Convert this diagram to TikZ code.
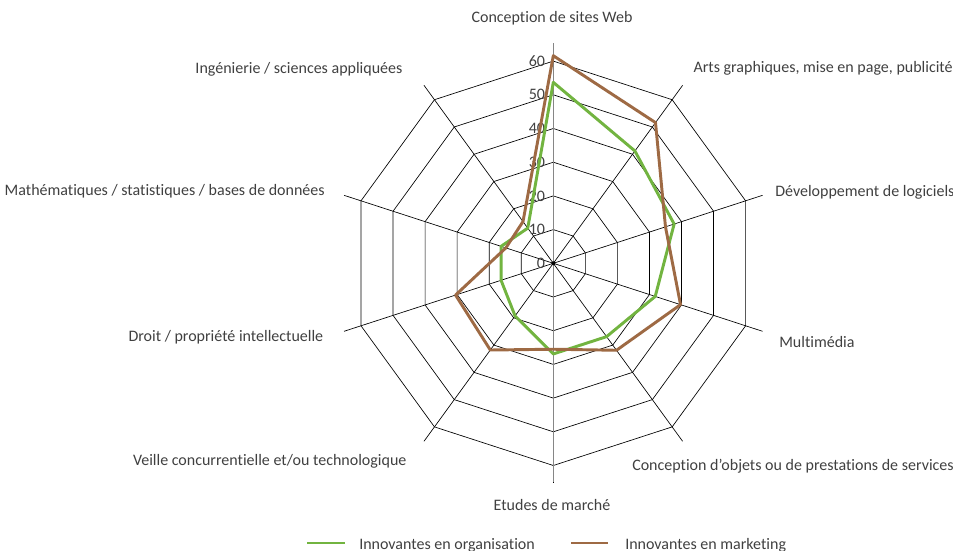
\documentclass[tikz,border=0pt]{standalone}
\usepackage{fontspec}
\setmainfont{Carlito}[Ligatures=NoCommon]
\definecolor{txt}{RGB}{64,64,64}
\definecolor{orgGreen}{RGB}{114,180,64}
\definecolor{mktBrown}{RGB}{158,106,68}
\definecolor{axisGray}{RGB}{134,134,134}
\begin{document}
\begin{tikzpicture}[x=0.75pt,y=-0.75pt,
  lbl/.style={font=\fontsize{12}{14}\selectfont, text=txt, inner sep=0pt},
  gridline/.style={draw=black, line width=0.5pt},
  spokeline/.style={draw=black, line width=0.5pt},
  valaxis/.style={draw=axisGray, line width=1.1pt},
  series/.style={line width=2.2pt, line join=round}]
\useasboundingbox (0,0) rectangle (953,550);
\coordinate (C) at (553.3,263.3);
\begin{scope}[shift={(553.3,263.3)}]
  % rings
  \foreach \v in {10,20,...,60}{
    \draw[gridline] (-90:\v*3.37) \foreach \k in {1,...,9}{ -- (-90+36*\k:\v*3.37)} -- cycle;
  }
  % spokes
  \foreach \k in {0,...,9}{
    \draw[spokeline] (0,0) -- (-90+36*\k:220);
  }
  \draw[valaxis] (-90:220) -- (90:219);
  \fill[black] (0,0) circle (2);
  % tick labels
  \foreach \v in {0,10,...,60}{
    \node[lbl, anchor=east] (t\v) at (-8,-\v*3.37) {\v};
  }
  % series
  \draw[series, orgGreen]
    (-90:53.7*3.37) -- (-54:41.2*3.37) -- (-18:37.7*3.37) -- (18:31.8*3.37)
    -- (54:26.9*3.37) -- (90:26.9*3.37) -- (126:19.3*3.37) -- (162:16.3*3.37)
    -- (198:16.3*3.37) -- (234:12.9*3.37) -- cycle;
  \draw[series, mktBrown]
    (-90:61.6*3.37) -- (-54:51.6*3.37) -- (-18:35*3.37) -- (18:39.7*3.37)
    -- (54:31.9*3.37) -- (90:25.5*3.37) -- (126:31.8*3.37) -- (162:30.5*3.37)
    -- (198:14.8*3.37) -- (234:15.3*3.37) -- cycle;
\end{scope}
% category labels
\node[lbl, anchor=base] (web) at (552,22.5) {Conception de sites Web};
\node[lbl, anchor=base west] (arts) at (693.3,72.5) {Arts graphiques, mise en page, publicité};
\node[lbl, anchor=base west] (dev) at (775,196) {Développement de logiciels};
\node[lbl, anchor=base west] (multi) at (779,347) {Multimédia};
\node[lbl, anchor=base west] (objets) at (632,470) {Conception d'objets ou de prestations de services};
\node[lbl, anchor=base] (etudes) at (552,510.5) {Etudes de marché};
\node[lbl, anchor=base east] (veille) at (406.7,465) {Veille concurrentielle et/ou technologique};
\node[lbl, anchor=base east] (droit) at (323.5,341.5) {Droit / propriété intellectuelle};
\node[lbl, anchor=base east] (math) at (325,195) {Mathématiques / statistiques / bases de données};
\node[lbl, anchor=base east] (ing) at (402.7,73.5) {Ingénierie / sciences appliquées};
% legend
\coordinate (g1) at (307,543);
\coordinate (g2) at (345,543);
\coordinate (b1) at (571,543);
\coordinate (b2) at (608,543);
\draw[orgGreen, line width=2.2pt] (g1) -- (g2);
\draw[mktBrown, line width=2.2pt] (b1) -- (b2);
\node[lbl, anchor=base west] (lg) at (359,549) {Innovantes en organisation};
\node[lbl, anchor=base west] (lm) at (625,549) {Innovantes en marketing};
\end{tikzpicture}
\end{document}
